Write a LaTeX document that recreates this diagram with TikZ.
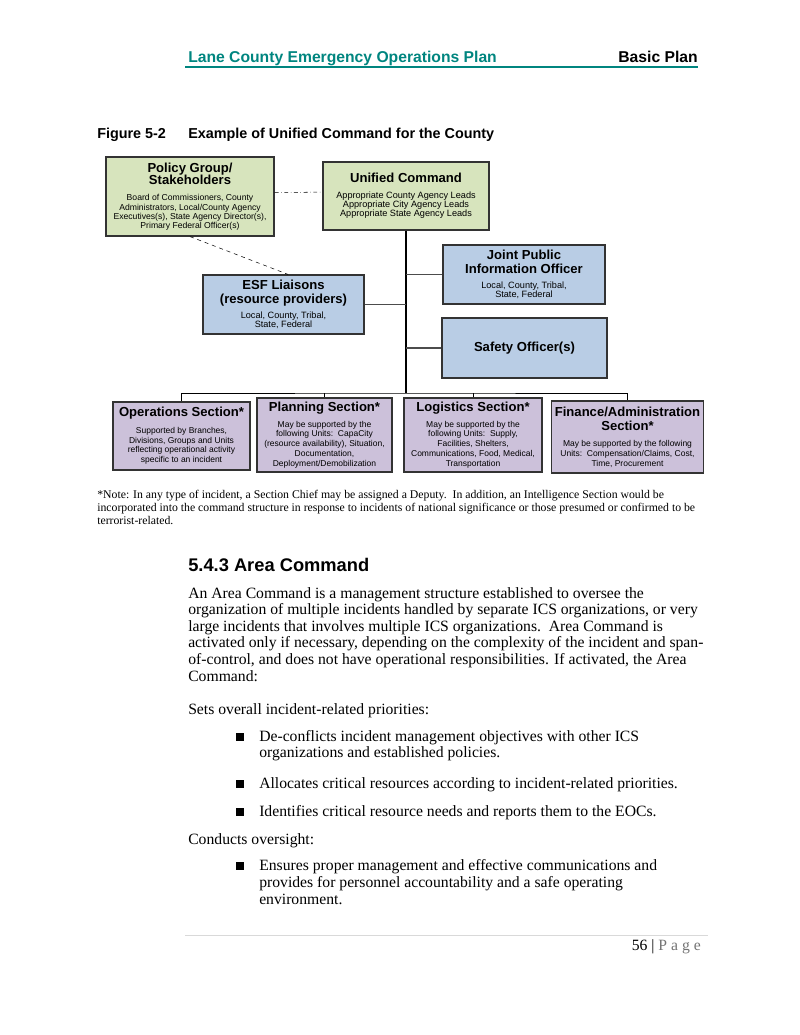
\documentclass[tikz,border=0pt]{standalone}
\usepackage{fontspec}
\setmainfont{Liberation Serif}
\newfontfamily\arial{Liberation Sans}
\usetikzlibrary{positioning, calc}

\definecolor{ucgreen}{RGB}{215,228,189}
\definecolor{esfblue}{RGB}{185,205,229}
\definecolor{secpurple}{RGB}{204,193,218}
\definecolor{lcteal}{RGB}{0,133,127}

\tikzstyle{cbox} = [draw=black!80, line width=0.9pt, inner sep=0pt, align=flush center]
\tikzstyle{greenbox} = [cbox, fill=ucgreen]
\tikzstyle{bluebox} = [cbox, fill=esfblue]
\tikzstyle{purplebox} = [cbox, fill=secpurple]
\tikzstyle{link} = [draw=black!70, line width=0.9pt]
\tikzstyle{bus} = [draw=black, line width=0.75pt]
\tikzstyle{trunk} = [draw=black, line width=1.5pt]
\tikzstyle{line} = [inner sep=0pt, anchor=base west]
\tikzstyle{para} = [line, text width=420pt, align=flush left, font=\fontsize{12}{12.7}\selectfont]
\tikzstyle{sq} = [fill=black, inner sep=0pt, minimum size=5.6pt]
\tikzset{wh/.style 2 args={minimum width=#1*0.765pt, minimum height=#2*0.765pt}}

% box title (gap, line spacing) and box body (size, line spacing)
\newcommand{\ttl}[3][4pt]{{\arial\bfseries\fontsize{10}{#2}\selectfont #3\par}\vspace{#1}}
\newcommand{\sml}[2][7]{{\arial\fontsize{#1}{7.1}\selectfont #2\par}}
\newcommand{\tny}[1]{{\arial\fontsize{6.5}{7.5}\selectfont #1\par}}

\begin{document}
\begin{tikzpicture}[x=0.765pt, y=-0.765pt]
    \useasboundingbox (0,0) rectangle (800,1035);

    % page header
    \node[line, font=\arial\bfseries\fontsize{12}{14}\selectfont, text=lcteal] (head) at (188,62) {Lane County Emergency Operations Plan};
    \node[inner sep=0pt, anchor=base east, font=\arial\bfseries\fontsize{12}{14}\selectfont] (part) at (698,62) {Basic Plan};
    \draw[lcteal, line width=1.5pt] (185,67) -- (698,67);

    % caption
    \node[line, font=\arial\bfseries\fontsize{11}{13}\selectfont] (fignum) at (97,138) {Figure 5-2};
    \node[line, font=\arial\bfseries\fontsize{11}{13}\selectfont] (figtitle) at (188,138) {Example of Unified Command for the County};

    % command boxes
    \node[greenbox, wh={168}{79}, text width=127pt] (policy) at (190,196.5)
        {\ttl[5.5pt]{9.4pt}{Policy Group/\\Stakeholders}\sml[6.6]{Board of Commissioners, County\\Administrators, Local/County Agency\\Executives(s), State Agency Director(s),\\Primary Federal Officer(s)}};
    \node[greenbox, wh={166}{68}, text width=126pt] (uc) at (406,196)
        {\ttl[5pt]{10.5pt}{Unified Command}\sml{Appropriate County Agency Leads\\Appropriate City Agency Leads\\Appropriate State Agency Leads}};
    \node[bluebox, wh={161}{59}, text width=122pt] (esf) at (283.5,304.5)
        {\ttl[3.5pt]{10.5pt}{ESF Liaisons\\(resource providers)}\sml{Local, County, Tribal,\\State, Federal}};
    \node[bluebox, wh={162}{59}, text width=122pt] (jpio) at (524,274.5)
        {\ttl[4.5pt]{10.5pt}{Joint Public\\Information Officer}\sml{Local, County, Tribal,\\State, Federal}};
    \node[bluebox, wh={165}{60}, text width=124pt, font=\arial\bfseries\fontsize{10}{10.5}\selectfont] (safety) at (524.5,348) {Safety Officer(s)};

    % sections
    \node[purplebox, wh={137}{68}, text width=104pt] (ops) at (181.5,436)
        {\ttl[5pt]{10.5pt}{Operations Section*}\tny{Supported by Branches,\\Divisions, Groups and Units\\reflecting operational activity\\specific to an incident}};
    \node[purplebox, wh={135}{74}, text width=102pt] (plan) at (324.5,435)
        {\ttl[4.5pt]{10.5pt}{Planning Section*}\tny{May be supported by the\\following Units:\ \ CapaCity\\(resource availability), Situation,\\Documentation,\\Deployment/Demobilization}};
    \node[purplebox, wh={138}{74}, text width=104pt] (logi) at (473,435)
        {\ttl[4.5pt]{10.5pt}{Logistics Section*}\tny{May be supported by the\\following Units:\ \ Supply,\\Facilities, Shelters,\\Communications, Food, Medical,\\Transportation}};
    \node[purplebox, wh={152}{72}, text width=115pt] (fin) at (627.5,437)
        {\ttl[5pt]{10.5pt}{Finance/Administration\\Section*}\tny{May be supported by the following\\Units:\ \ Compensation/Claims, Cost,\\Time, Procurement}};

    % connectors
    \draw[dashdotted, thin] ([yshift=3pt]policy.east) -- ([yshift=3pt]uc.west);
    \draw[dashed, thin] (policy.south) -- ([xshift=3.5pt]esf.north);
    \coordinate (bus) at (406,393);
    \draw[trunk] (uc.south) -- (bus);
    \draw[link] (esf.east) -- (esf.east -| bus);
    \draw[link] (jpio.west) -- (jpio.west -| bus);
    \draw[link] (safety.west) -- (safety.west -| bus);
    \draw[bus] (ops.north) |- (bus) -| (fin.north);
    \draw[bus] (plan.north) -- (plan.north |- bus);
    \draw[bus] (logi.north) -- (logi.north |- bus);

    % note under the figure
    \node[line, text width=620pt, align=flush left, font=\fontsize{9}{10.3}\selectfont] (note) at (97,498)
        {*Note: In any type of incident, a Section Chief may be assigned a Deputy.\ \ In addition, an Intelligence Section would be\\incorporated into the command structure in response to incidents of national significance or those presumed or confirmed to be\\terrorist-related.};

    % section text
    \node[line, font=\arial\bfseries\fontsize{14}{16}\selectfont] (sec) at (188,571) {5.4.3 Area Command};
    \node[para] (intro) at (188,598)
        {An Area Command is a management structure established to oversee the\\organization of multiple incidents handled by separate ICS organizations, or very\\large incidents that involves multiple ICS organizations.\ \ Area Command is\\activated only if necessary, depending on the complexity of the incident and span-\\of-control, and does not have operational responsibilities. If activated, the Area\\Command:};
    \node[para] (sets) at (188,714) {Sets overall incident-related priorities:};
    \node[sq] (q1) at (240,737) {};
    \node[para, text width=380pt] (item1) at (259,741) {De-conflicts incident management objectives with other ICS\\organizations and established policies.};
    \node[sq] (q2) at (240,784) {};
    \node[para, text width=380pt] (item2) at (259,788) {Allocates critical resources according to incident-related priorities.};
    \node[sq] (q3) at (240,812) {};
    \node[para, text width=380pt] (item3) at (259,816) {Identifies critical resource needs and reports them to the EOCs.};
    \node[para] (conducts) at (188,844) {Conducts oversight:};
    \node[sq] (q4) at (240,866) {};
    \node[para, text width=380pt, font=\fontsize{12}{13.2}\selectfont] (item4) at (259,870) {Ensures proper management and effective communications and\\provides for personnel accountability and a safe operating\\environment.};

    % page footer
    \draw[black!15, line width=0.75pt] (185,935) -- (708,935);
    \node[inner sep=0pt, anchor=base east, font=\fontsize{12}{14}\selectfont] (pageno) at (701,950)
        {56 | \textcolor{black!55}{\addfontfeature{LetterSpace=25}Page}};
\end{tikzpicture}
\end{document}
